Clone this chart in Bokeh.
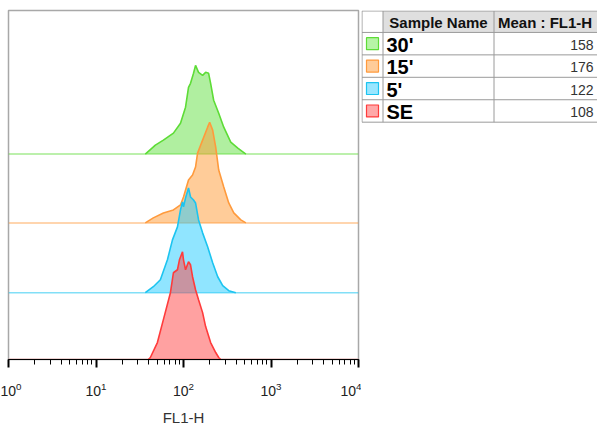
import numpy as np
from bokeh.plotting import figure
from bokeh.layouts import row
from bokeh.models import ColumnDataSource, Range1d, LogTicker
from bokeh.embed import file_html
from bokeh.resources import INLINE
from bokeh.core.properties import value

# ---- data ----
samples = ["30'", "15'", "5'", "SE"]
means = [158, 176, 122, 108]
offsets = [206, 137, 67, 0]  # vertical stacking offsets (counts units)

fl1_30 = [36.6, 47.7, 58.9, 76.7, 92.4, 105.5, 114.1, 120.3, 130.2, 137.3, 148.6,
          165.3, 179.0, 193.7, 204.2, 221.1, 252.6, 288.4, 346.7, 417.6, 516.4]
cnt_30 = [0, 9, 14, 21, 31, 47, 67, 71, 81, 89, 82, 79, 82, 81, 71, 54, 41, 27, 12, 6, 0]

fl1_15 = [36.6, 45.2, 58.9, 76.7, 92.4, 100.0, 114.1, 126.9, 137.3, 144.8, 165.3,
          188.7, 199.0, 215.4, 233.3, 252.6, 288.4, 328.9, 375.7, 452.0, 516.4]
cnt_15 = [0, 5, 10, 13, 18, 26, 43, 48, 56, 70, 83, 96, 101, 93, 76, 53, 36, 20, 10, 3, 0]

fl1_5 = [36.6, 45.2, 54.4, 65.5, 74.8, 85.3, 92.4, 97.4, 100.0, 105.5, 114.1, 120.3,
         130.2, 137.3, 148.6, 165.3, 188.7, 215.4, 245.9, 280.7, 328.9, 396.0]
cnt_5 = [0, 6, 13, 33, 53, 66, 83, 91, 86, 95, 105, 96, 93, 90, 73, 60, 46, 30, 16, 7, 2, 0]

fl1_se = [39.6, 41.8, 50.3, 58.9, 70.9, 76.7, 85.3, 89.9, 97.4, 100.0, 105.5, 114.1,
          120.3, 126.9, 137.3, 148.6, 165.3, 179.0, 204.2, 233.3, 252.6, 266.0]
cnt_se = [0, 2, 17, 40, 67, 87, 90, 100, 108, 100, 90, 98, 95, 83, 70, 60, 47, 33,
          17, 7, 2, 0]

fl1_all = [fl1_30, fl1_15, fl1_5, fl1_se]
cnt_all = [cnt_30, cnt_15, cnt_5, cnt_se]

line_colors = ["#5ddc36", "#ff9a3c", "#1cc4f0", "#ff3b3b"]
fill_colors = ["#62e042", "#ff9933", "#22ccff", "#ff4444"]
swatch_fill = ["#b6f4a6", "#ffcc99", "#99e6ff", "#ffa8a8"]

FONT = "Liberation Sans"

# ---- histogram figure ----
p = figure(width=361, height=428, x_axis_type="log",
           x_range=Range1d(1, 1e4), y_range=Range1d(0, 350),
           min_border_left=8, min_border_right=3, min_border_top=10,
           min_border_bottom=68, y_axis_location=None,
           toolbar_location=None, output_backend="svg")
p.grid.visible = False
p.outline_line_color = "#a8a8a8"
p.outline_line_width = 1.5
p.background_fill_color = "white"
p.border_fill_color = "white"

for xs, cs, off, lc, fc in zip(fl1_all, cnt_all, offsets, line_colors, fill_colors):
    ys = [off + c for c in cs]
    # baseline across the full range
    p.line([1, 1e4], [off, off], line_color=lc, line_alpha=0.55, line_width=1.5)
    p.patch(xs, ys, fill_color=fc, fill_alpha=0.5, line_color=None)
    p.line(xs, ys, line_color=lc, line_width=1.6)

ax = p.xaxis[0]
ax.ticker = LogTicker(num_minor_ticks=10)
ax.axis_line_color = "black"
ax.axis_line_width = 1
ax.major_tick_line_color = "black"
ax.major_tick_line_width = 2
ax.major_tick_out = 8
ax.major_tick_in = 0
ax.minor_tick_line_color = "black"
ax.minor_tick_out = 5
ax.minor_tick_in = 0
ax.major_label_text_font = FONT
ax.major_label_text_font_size = "14px"
ax.major_label_text_color = "#222222"
ax.major_label_standoff = 14
ax.axis_label = "FL1-H"
ax.axis_label_text_font = FONT
ax.axis_label_text_font_size = "15px"
ax.axis_label_text_font_style = "normal"
ax.axis_label_text_color = "#333333"
ax.axis_label_standoff = 10

# ---- legend table figure ----
# In a row, this figure's frame is aligned with the histogram frame (canvas y 10..360),
# so the y range is expressed in canvas pixels.
t = figure(width=236, height=428, x_range=Range1d(0, 236), y_range=Range1d(360, 10),
           x_axis_location=None, y_axis_location=None,
           min_border=0, toolbar_location=None, output_backend="svg")
t.grid.visible = False
t.outline_line_color = None
t.background_fill_color = "white"
t.border_fill_color = "white"

top, head_h, row_h = 10.5, 21.5, 22.5
col_edges = [0.5, 21.5, 132.5, 300]
n = len(samples)
row_edges = [top, top + head_h] + [top + head_h + row_h * (i + 1) for i in range(n)]
bottom = row_edges[-1]

# header background
t.quad(left=col_edges[1], right=col_edges[3], top=top, bottom=top + head_h,
       fill_color="#dfdfdf", line_color=None)
# grid lines
t.segment(x0=[col_edges[0]] * len(row_edges), x1=[col_edges[3]] * len(row_edges),
          y0=row_edges, y1=row_edges, line_color="#9a9a9a", line_width=1)
t.segment(x0=col_edges[:3], x1=col_edges[:3], y0=[top] * 3, y1=[bottom] * 3,
          line_color="#9a9a9a", line_width=1)

# header text
t.text(x=[(col_edges[1] + col_edges[2]) / 2], y=[top + head_h / 2 + 1], text=["Sample Name"],
       text_font=value(FONT), text_font_style="bold", text_font_size="15px",
       text_align="center", text_baseline="middle", text_color="#111111")
t.text(x=[col_edges[2] + 4], y=[top + head_h / 2 + 1], text=["Mean : FL1-H"],
       text_font=value(FONT), text_font_style="bold", text_font_size="15px",
       text_align="left", text_baseline="middle", text_color="#111111")

centers = [top + head_h + row_h * (i + 0.5) for i in range(n)]
src = ColumnDataSource(dict(y=centers, name=samples, mean=[str(m) for m in means],
                            fill=swatch_fill, line=line_colors))
t.rect(x=11, y="y", width=12, height=12, fill_color="fill", line_color="line",
       line_width=1.2, source=src)
t.text(x=25, y="y", text="name", text_font=value(FONT), text_font_style="bold",
       text_font_size="20px", text_align="left", text_baseline="middle",
       text_color="black", y_offset=1, source=src)
t.text(x=232, y="y", text="mean", text_font=value(FONT), text_font_size="14px",
       text_align="right", text_baseline="middle", text_color="#333333",
       y_offset=1, source=src)

layout = row(p, t, spacing=0)
open("out.html", "w").write(file_html(layout, INLINE))
